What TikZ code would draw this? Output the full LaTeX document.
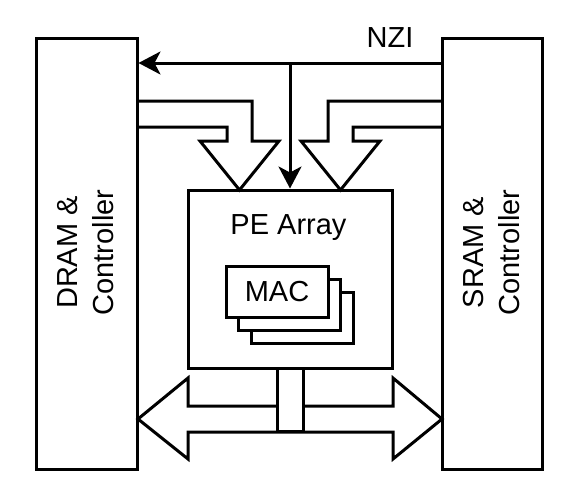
\documentclass[tikz,border=0pt]{standalone}
\usepackage{fontspec}
\setmainfont{Liberation Sans}
\usetikzlibrary{arrows.meta}

\begin{document}
\begin{tikzpicture}[x=1pt,y=-1pt,line width=3pt,
  every node/.style={font=\fontsize{29}{36}\selectfont},
  memblock/.style={draw, minimum width=100.5pt, minimum height=431pt},
  memlabel/.style={rotate=90, align=center},
  macbox/.style={draw, fill=white, minimum width=102pt, minimum height=51pt},
  nzi/.style={-{Stealth[length=22pt,width=23pt,inset=6pt]}}]
\useasboundingbox (0,0) rectangle (580,496);
\node[memblock] (dram) at (86.75,253.5) {};
\node[memblock] (sram) at (492.5,253.5) {};
\node[memlabel] (dramtext) at (85.5,252.5) {DRAM \&\\Controller};
\node[memlabel] (sramtext) at (491.5,252.5) {SRAM \&\\Controller};

\node[draw, minimum width=204pt, minimum height=178pt] (pe) at (290,279) {};
\node[anchor=base] (petext) at (288.5,234) {PE Array};
\node[macbox] (mac3) at (302,317.5) {};
\node[macbox] (mac2) at (289.5,304.5) {};
\node[macbox] (mac1) at (277,291.5) {MAC};

\draw (137,101) -- (252,101) -- (252,141) -- (279,141) -- (239.5,190) -- (200,141) -- (227,141) -- (227,127) -- (137,127);
\draw (443,101) -- (328,101) -- (328,141) -- (301,141) -- (340.5,190) -- (380,141) -- (353,141) -- (353,127) -- (443,127);
\draw (138,419) -- (188,378) -- (188,406) -- (393,406) -- (393,378) -- (442,419) -- (393,459) -- (393,432) -- (188,432) -- (188,459) -- cycle;
\node[draw, fill=white, minimum width=26pt, minimum height=63pt] (port) at (290,399.5) {};

\coordinate (tap) at (290,63);
\node[anchor=base] (nzitext) at (390,47) {NZI};
\draw[nzi] (sram.west |- tap) -- (dram.east |- tap);
\draw[nzi] (tap) -- (pe.north);
\end{tikzpicture}
\end{document}
